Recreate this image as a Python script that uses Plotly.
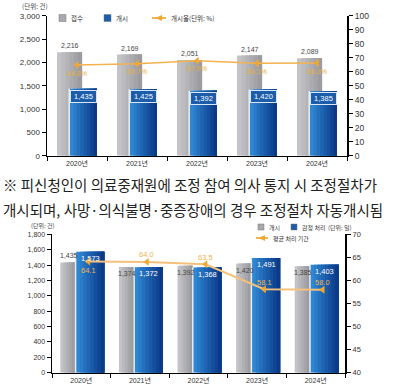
import plotly.graph_objects as go

# ---------------- data ----------------
years = ["2020년", "2021년", "2022년", "2023년", "2024년"]

top_received = [2216, 2169, 2051, 2147, 2089]      # 접수
top_started = [1435, 1425, 1392, 1420, 1385]       # 개시
top_rate = [64.8, 65.7, 67.9, 66.1, 66.3]          # 개시율(%)

bot_started = [1435, 1374, 1392, 1420, 1385]       # 개시
bot_appraised = [1573, 1372, 1368, 1491, 1403]     # 감정 처리
bot_days = [64.1, 64.0, 63.5, 58.1, 58.0]          # 평균 처리 기간

top_left_range = [0, 3000]
top_right_range = [0, 100]
bot_left_range = [0, 1800]
bot_right_range = [40, 70]

top_series_names = ["접수", "개시", "개시율(단위: %)"]
bot_series_names = ["개시", "감정 처리", "평균 처리 기간"]
unit_count = "(단위: 건)"
unit_days = "(단위: 일)"

note_lines = [
    "※ 피신청인이 의료중재원에 조정 참여 의사 통지 시 조정절차가",
    "개시되며, 사망·의식불명·중증장애의 경우 조정절차 자동개시됨",
]

FONT = "Liberation Sans, Noto Sans CJK KR, sans-serif"
KFONT = "Noto Sans CJK KR, sans-serif"

W, H = 400, 384


def px(x):
    return x / W


def py(y):
    return 1 - y / H


def hex2rgb(h):
    h = h.lstrip("#")
    return tuple(int(h[i:i + 2], 16) for i in (0, 2, 4))


def lerp(c1, c2, t):
    a, b = hex2rgb(c1), hex2rgb(c2)
    return "rgb(%d,%d,%d)" % tuple(round(a[i] + (b[i] - a[i]) * t) for i in range(3))


def gradient_bars(x, y, xa, ya, offset, width, c_left, c_right, n, name, edge=None):
    traces = []
    if edge:
        traces.append(go.Bar(x=x, y=y, xaxis=xa, yaxis=ya, offset=offset - 0.025,
                             width=width + 0.025, marker=dict(color=edge, line=dict(width=0)),
                             name=name, showlegend=False, hoverinfo="skip"))
    step = width / n
    for i in range(n):
        t = i / (n - 1)
        traces.append(go.Bar(
            x=x, y=y, xaxis=xa, yaxis=ya,
            offset=offset + i * step, width=width - i * step,
            marker=dict(color=lerp(c_left, c_right, t), line=dict(width=0)),
            name=name, showlegend=False, hoverinfo="skip"))
    return traces


fig = go.Figure()

GRAY_L, GRAY_R = "#c4c4c8", "#9b9ba0"
BLUE_L, BLUE_R = "#2f86d2", "#0b3a89"
ORANGE = "#f4b24e"

# ---------------- top chart ----------------
for tr in gradient_bars(years, top_received, "x", "y", -0.333, 0.417, GRAY_L, GRAY_R, 6,
                        top_series_names[0]):
    fig.add_trace(tr)
for tr in gradient_bars(years, top_started, "x", "y", -0.117, 0.45, BLUE_L, BLUE_R, 8,
                        top_series_names[1], edge="#e6eef8"):
    fig.add_trace(tr)

fig.add_trace(go.Scatter(
    x=years, y=top_rate, xaxis="x", yaxis="y2", name=top_series_names[2],
    mode="lines+markers+text", text=[f"{v:.1f}%" for v in top_rate],
    textposition="bottom center",
    textfont=dict(size=7, color="#e6b03c", family=FONT),
    line=dict(color=ORANGE, width=1.5),
    marker=dict(symbol="triangle-left", size=7, color="#f0a832"),
    showlegend=False, hoverinfo="skip"))

# ---------------- bottom chart ----------------
for tr in gradient_bars(years, bot_started, "x2", "y3", -0.358, 0.256, GRAY_L, GRAY_R, 5,
                        bot_series_names[0]):
    fig.add_trace(tr)
for tr in gradient_bars(years, bot_appraised, "x2", "y3", -0.085, 0.478, BLUE_L, BLUE_R, 8,
                        bot_series_names[1], edge="#e6eef8"):
    fig.add_trace(tr)

fig.add_trace(go.Scatter(
    x=years, y=bot_days, xaxis="x3", yaxis="y4", name=bot_series_names[2],
    mode="lines+markers",
    line=dict(color="#f5c07a", width=2),
    marker=dict(symbol="triangle-left", size=7, color="#f0a832"),
    showlegend=False, hoverinfo="skip"))

# ---------------- value labels ----------------
ann = []
for yr, v in zip(years, top_received):
    ann.append(dict(x=yr, y=v, xref="x", yref="y", xshift=-7.5, yshift=1,
                    yanchor="bottom", showarrow=False, text=f"{v:,}",
                    font=dict(size=7, color="#444", family=FONT)))
for yr, v in zip(years, top_started):
    ann.append(dict(x=yr, y=v, xref="x", yref="y", xshift=6.5, yshift=-1,
                    yanchor="top", showarrow=False, text=f"{v:,}", width=23,
                    bgcolor="#1b5cab", bordercolor="#d8e6f6", borderwidth=1, borderpad=1,
                    font=dict(size=7.5, color="white", family=FONT)))
for i, (yr, v) in enumerate(zip(years, bot_started)):
    ann.append(dict(x=yr, y=v, xref="x2", yref="y3", xshift=-12.5,
                    yshift=1 if i == 0 else -1,
                    yanchor="bottom" if i == 0 else "top", showarrow=False, text=f"{v:,}",
                    font=dict(size=7, color="#444", family=FONT)))
for yr, v in zip(years, bot_appraised):
    ann.append(dict(x=yr, y=v, xref="x2", yref="y3", xshift=9, yshift=-1,
                    yanchor="top", showarrow=False, text=f"{v:,}", borderpad=0,
                    font=dict(size=7.5, color="white", family=FONT)))
for i, (yr, v) in enumerate(zip(years, bot_days)):
    ann.append(dict(x=yr, y=v, xref="x3", yref="y4", yshift=-9 if i == 0 else 7,
                    yanchor="middle", showarrow=False, text=f"{v:.1f}", borderpad=0,
                    font=dict(size=7.5, color="#f0b452", family=FONT)))

# ---------------- units, note text ----------------
def ptext(x, y, text, size=6.5, color="#444", family=KFONT):
    return dict(x=px(x), y=py(y), xref="paper", yref="paper", xanchor="left",
                yanchor="middle", showarrow=False, text=text,
                font=dict(size=size, color=color, family=family))


ann.append(ptext(20, 6, unit_count))
ann.append(ptext(29, 225, unit_count, size=6))
ann.append(ptext(326, 227, unit_days, size=6))
for k, line in enumerate(note_lines):
    ann.append(ptext(1, 185 + 24 * k, line, size=14.5, color="#222"))

# ---------------- custom legends (paper coords) ----------------
shapes = []


def legend_box(x, y, color, name, size=6.5, box=7):
    shapes.append(dict(type="rect", xref="paper", yref="paper",
                       x0=px(x), x1=px(x + box), y0=py(y + box / 2), y1=py(y - box / 2),
                       fillcolor=color, line=dict(width=0.5, color="#777")))
    ann.append(ptext(x + box + 2.5, y, name, size=size, color="#333"))


def legend_line(x0, x1, y, name, size=6.5):
    shapes.append(dict(type="line", xref="paper", yref="paper",
                       x0=px(x0), x1=px(x1), y0=py(y), y1=py(y),
                       line=dict(color=ORANGE, width=2)))
    cx = (x0 + x1) / 2
    path = "M %f,%f L %f,%f L %f,%f Z" % (px(cx - 3.5), py(y), px(cx + 3), py(y - 3),
                                          px(cx + 3), py(y + 3))
    shapes.append(dict(type="path", xref="paper", yref="paper", path=path,
                       fillcolor="#f0a832", line=dict(width=0)))
    ann.append(ptext(x1 + 3, y, name, size=size, color="#333"))


legend_box(59, 18, "#a9a9ad", top_series_names[0])
legend_box(104, 18, "#1b5cab", top_series_names[1])
legend_line(152, 166, 18, top_series_names[2])

legend_box(258, 227, "#a9a9ad", bot_series_names[0], size=6, box=6)
legend_box(291, 227, "#1b5cab", bot_series_names[1], size=6, box=6)
legend_line(256, 268, 238, bot_series_names[2], size=6)

axis_common = dict(showline=True, linecolor="black", ticks="outside", tickcolor="black",
                   ticklen=4, showgrid=False, zeroline=False, automargin=False)


def tf(size):
    return dict(size=size, color="#333", family=FONT)


fig.update_layout(
    template="none",
    width=W, height=H,
    margin=dict(l=0, r=0, t=0, b=0, autoexpand=False),
    paper_bgcolor="white", plot_bgcolor="white",
    barmode="overlay", showlegend=False, hovermode=False,
    font=dict(family=FONT, size=8, color="#333"),
    xaxis=dict(domain=[0.1175, 0.8675], anchor="y", type="category", range=[-0.5, 4.5],
               tickson="boundaries", linewidth=1.5, tickfont=tf(7), **axis_common),
    yaxis=dict(domain=[0.5945, 0.959], anchor="x", range=top_left_range, dtick=500,
               tickformat=",d", linewidth=1.5, tickfont=tf(8), **axis_common),
    yaxis2=dict(overlaying="y", anchor="x", side="right", range=top_right_range, dtick=10,
                linewidth=2, tickfont=tf(8.5), **axis_common),
    xaxis2=dict(domain=[0.13, 0.8625], anchor="y3", type="category", range=[-0.5, 4.5],
                tickson="boundaries", linewidth=1.5, tickfont=tf(7), **axis_common),
    xaxis3=dict(overlaying="x2", anchor="y3", type="category", range=[-0.62, 4.38],
                visible=False),
    yaxis3=dict(domain=[0.0294, 0.3898], anchor="x2", range=bot_left_range, dtick=200,
                tickformat=",d", linewidth=1.5, tickfont=tf(7), **axis_common),
    yaxis4=dict(overlaying="y3", anchor="x2", side="right", range=bot_right_range, dtick=5,
                linewidth=2, tickfont=tf(7.5), **axis_common),
    annotations=ann,
    shapes=shapes,
)

fig.write_html("out.html",
               config={"displayModeBar": False, "staticPlot": True},
               post_script="document.body.style.margin='0';"
                           "document.body.style.overflow='hidden';")
